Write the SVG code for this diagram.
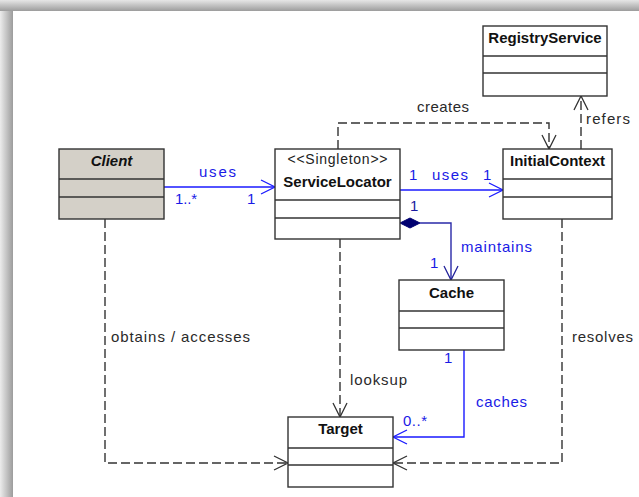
<svg xmlns="http://www.w3.org/2000/svg" width="639" height="497" viewBox="0 0 639 497">
  <defs>
    <linearGradient id="shadeTop" x1="0" y1="0" x2="0" y2="1">
      <stop offset="0" stop-color="#e6e6e6"/>
      <stop offset="1" stop-color="#9c9c9c"/>
    </linearGradient>
    <linearGradient id="shadeLeft" x1="0" y1="0" x2="1" y2="0">
      <stop offset="0" stop-color="#ececec"/>
      <stop offset="1" stop-color="#9c9c9c"/>
    </linearGradient>
    <marker id="arrBlue" markerUnits="userSpaceOnUse" markerWidth="18" markerHeight="18" viewBox="-16 -9 18 18" refX="0" refY="0" orient="auto" overflow="visible">
      <path d="M-14,-7 L0,0 L-14,7" fill="none" stroke="#1a1aff" stroke-width="1.3"/>
    </marker>
    <marker id="arrNavy" markerUnits="userSpaceOnUse" markerWidth="18" markerHeight="18" viewBox="-16 -9 18 18" refX="0" refY="0" orient="auto" overflow="visible">
      <path d="M-14,-7 L0,0 L-14,7" fill="none" stroke="#22229a" stroke-width="1.3"/>
    </marker>
    <marker id="arrDash" markerUnits="userSpaceOnUse" markerWidth="18" markerHeight="18" viewBox="-16 -9 18 18" refX="0" refY="0" orient="auto" overflow="visible">
      <path d="M-14,-7 L0,0 L-14,7" fill="none" stroke="#333" stroke-width="1.3"/>
    </marker>
  </defs>
  <style>
    .box { fill: #ffffff; stroke: #333333; stroke-width: 1.4; }
    .abstract { fill: #d4d0c8; }
    .sep { stroke: #333333; stroke-width: 1.4; }
    .title { font-family: "Liberation Sans", Arial, sans-serif; font-size: 15px; font-weight: bold; fill: #111; text-anchor: middle; }
    .stereo { font-family: "Liberation Sans", Arial, sans-serif; font-size: 14px; fill: #222; text-anchor: middle; }
    .lbl { font-family: "Liberation Sans", Arial, sans-serif; font-size: 15px; fill: #2a2a2a; }
    .blbl { font-family: "Liberation Sans", Arial, sans-serif; font-size: 15px; fill: #1a1ae6; }
    .nlbl { font-family: "Liberation Sans", Arial, sans-serif; font-size: 15px; fill: #1a1aa0; }
    .assoc { fill: none; stroke: #1a1aff; stroke-width: 1.4; }
    .comp { fill: none; stroke: #2a2aa8; stroke-width: 1.4; }
    .dep { fill: none; stroke: #333333; stroke-width: 1.4; stroke-dasharray: 9 4; }
  </style>

  <!-- page background with soft drop shading along the top and left edges -->
  <rect x="0" y="0" width="639" height="497" fill="#ffffff"/>
  <rect x="0" y="0" width="13" height="497" fill="url(#shadeLeft)"/>
  <rect x="0" y="0" width="639" height="11" fill="url(#shadeTop)"/>

  <!-- connectors -->
  <g id="connectors">
    <!-- Client uses ServiceLocator -->
    <path class="assoc" d="M164,187 L275,187" marker-end="url(#arrBlue)"/>
    <!-- ServiceLocator uses InitialContext -->
    <path class="assoc" d="M400,190 L503,190" marker-end="url(#arrBlue)"/>
    <!-- ServiceLocator maintains Cache (composition) -->
    <path class="comp" d="M420,223 L451,223 L451,280" marker-end="url(#arrNavy)"/>
    <path d="M400,223 L410,218 L420,223 L410,228 Z" fill="#000070" stroke="#000070" stroke-width="1"/>
    <!-- Cache caches Target -->
    <path class="assoc" d="M464,350 L464,437 L393,437" marker-end="url(#arrBlue)"/>
    <!-- ServiceLocator creates InitialContext -->
    <path class="dep" d="M338,149 L338,123 L549,123 L549,149" marker-end="url(#arrDash)"/>
    <!-- InitialContext refers RegistryService -->
    <path class="dep" d="M581,149 L581,96" marker-end="url(#arrDash)"/>
    <!-- Client obtains / accesses Target -->
    <path class="dep" d="M105,219 L105,463 L288,463" marker-end="url(#arrDash)"/>
    <!-- InitialContext resolves Target -->
    <path class="dep" d="M562,219 L562,463 L393,463" marker-end="url(#arrDash)"/>
    <!-- ServiceLocator looksup Target -->
    <path class="dep" d="M340,239 L340,417" marker-end="url(#arrDash)"/>

    <!-- connector labels -->
    <text class="lbl" x="417" y="112" textLength="52" lengthAdjust="spacing">creates</text>
    <text class="lbl" x="586" y="124" textLength="44" lengthAdjust="spacing">refers</text>
    <text class="blbl" x="199" y="177" textLength="37" lengthAdjust="spacing">uses</text>
    <text class="blbl" x="175" y="204" textLength="22" lengthAdjust="spacing">1..*</text>
    <text class="blbl" x="247" y="204">1</text>
    <text class="blbl" x="409" y="180">1</text>
    <text class="blbl" x="432" y="180" textLength="36" lengthAdjust="spacing">uses</text>
    <text class="blbl" x="483" y="180">1</text>
    <text class="nlbl" x="410" y="211">1</text>
    <text class="blbl" x="461" y="252" textLength="71" lengthAdjust="spacing">maintains</text>
    <text class="blbl" x="430" y="268">1</text>
    <text class="lbl" x="111" y="342" textLength="139" lengthAdjust="spacing">obtains / accesses</text>
    <text class="lbl" x="572" y="342" textLength="61" lengthAdjust="spacing">resolves</text>
    <text class="lbl" x="350" y="385" textLength="57" lengthAdjust="spacing">looksup</text>
    <text class="blbl" x="444" y="363">1</text>
    <text class="blbl" x="476" y="407" textLength="51" lengthAdjust="spacing">caches</text>
    <text class="blbl" x="403" y="426" textLength="24" lengthAdjust="spacing">0..*</text>
  </g>

  <!-- classes -->
  <g id="client">
    <rect class="box abstract" x="59" y="149" width="105" height="70"/>
    <line class="sep" x1="59" y1="179" x2="164" y2="179"/>
    <line class="sep" x1="59" y1="197" x2="164" y2="197"/>
    <text class="title" x="111.5" y="166" font-style="italic">Client</text>
  </g>

  <g id="service-locator">
    <rect class="box" x="275" y="149" width="125" height="90"/>
    <line class="sep" x1="275" y1="200" x2="400" y2="200"/>
    <line class="sep" x1="275" y1="218" x2="400" y2="218"/>
    <text class="stereo" x="337.5" y="164" textLength="100" lengthAdjust="spacing">&lt;&lt;Singleton&gt;&gt;</text>
    <text class="title" x="337.5" y="187">ServiceLocator</text>
  </g>

  <g id="initial-context">
    <rect class="box" x="503" y="149" width="109" height="70"/>
    <line class="sep" x1="503" y1="179" x2="612" y2="179"/>
    <line class="sep" x1="503" y1="197" x2="612" y2="197"/>
    <text class="title" x="557.5" y="166">InitialContext</text>
  </g>

  <g id="registry-service">
    <rect class="box" x="483" y="26" width="124" height="70"/>
    <line class="sep" x1="483" y1="56" x2="607" y2="56"/>
    <line class="sep" x1="483" y1="73" x2="607" y2="73"/>
    <text class="title" x="545" y="43">RegistryService</text>
  </g>

  <g id="cache">
    <rect class="box" x="399" y="280" width="105" height="70"/>
    <line class="sep" x1="399" y1="311" x2="504" y2="311"/>
    <line class="sep" x1="399" y1="328" x2="504" y2="328"/>
    <text class="title" x="451.5" y="298">Cache</text>
  </g>

  <g id="target">
    <rect class="box" x="288" y="417" width="105" height="70"/>
    <line class="sep" x1="288" y1="448" x2="393" y2="448"/>
    <line class="sep" x1="288" y1="465" x2="393" y2="465"/>
    <text class="title" x="340.5" y="434">Target</text>
  </g>
</svg>
